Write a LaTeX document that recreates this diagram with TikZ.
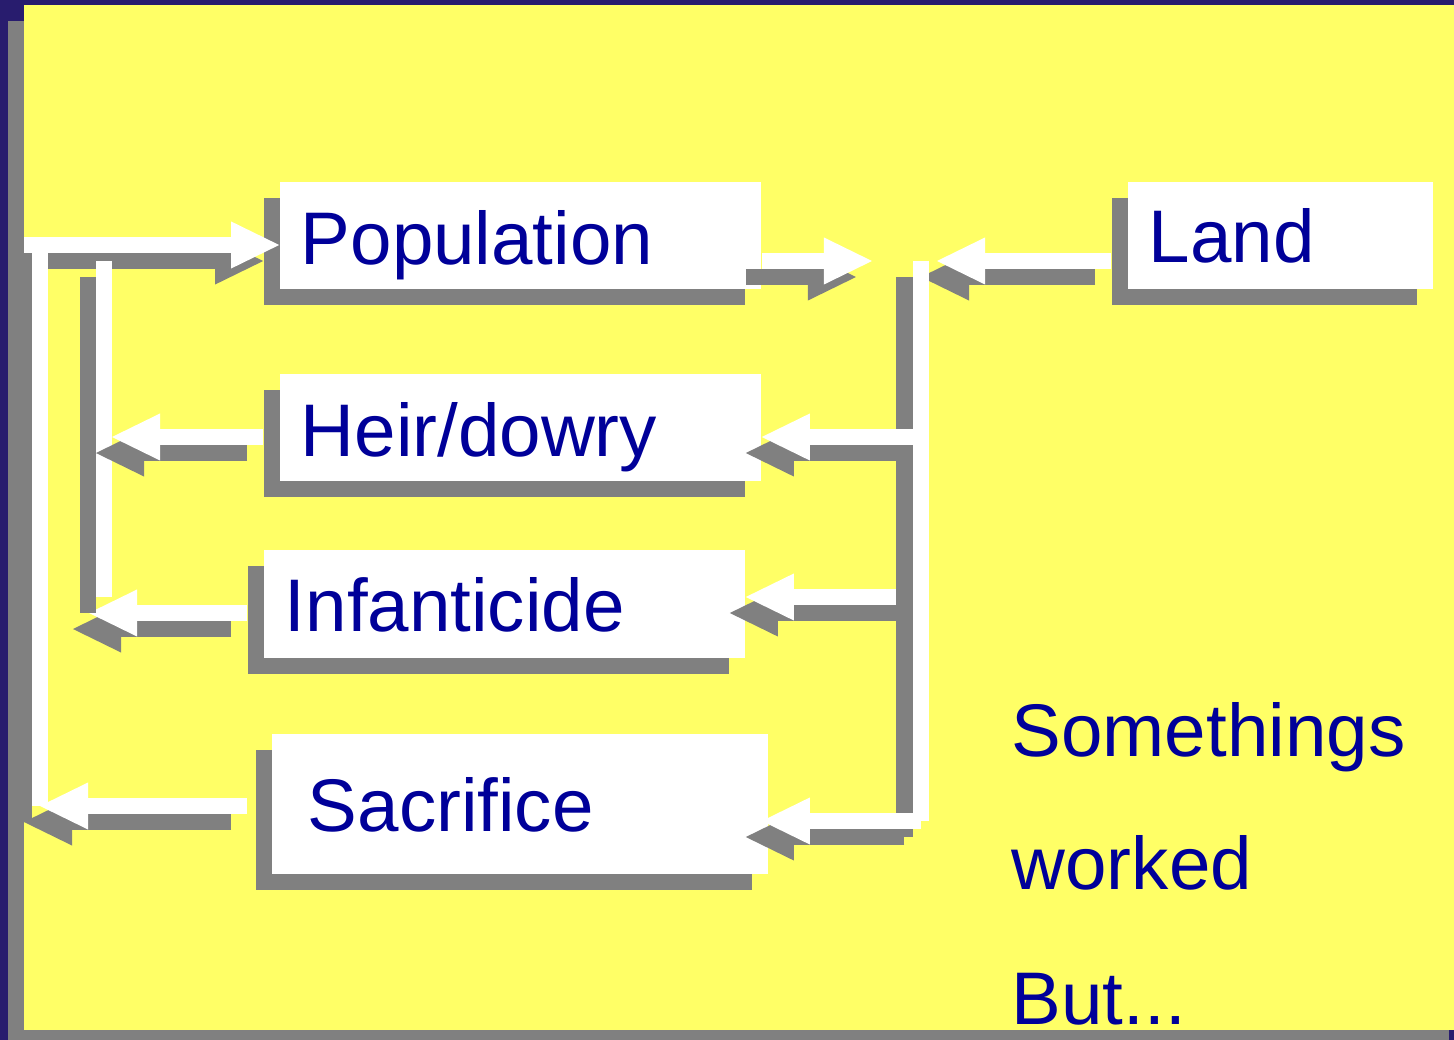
\documentclass[tikz,border=0pt]{standalone}
\usepackage{fontspec}
\setmainfont{Liberation Sans}
\usepackage{tikz}
\usetikzlibrary{arrows.meta,calc,shadows}
\usepackage{xcolor}
\definecolor{slideyellow}{RGB}{255,255,102}
\definecolor{framenavy}{RGB}{40,28,110}
\definecolor{shadowgray}{RGB}{128,128,128}
\definecolor{textblue}{RGB}{0,0,153}

\begin{document}
\begin{tikzpicture}[
    x=0.01cm, y=-0.01cm,
    box/.style={rectangle, fill=white, inner sep=0pt, general shadow={fill=shadowgray, shadow xshift=-0.16cm, shadow yshift=-0.16cm}},
    lbl/.style={font=\fontsize{21.2pt}{25pt}\selectfont, text=textblue, inner sep=0pt, anchor=base west},
    pipe/.style={draw=white, line width=0.16cm, preaction={draw=shadowgray, line width=0.16cm, transform canvas={shift={(-0.16cm,-0.16cm)}}}},
    flow/.style={pipe, -{Triangle[length=0.48cm, width=0.47cm, line width=0pt]}}
]
    \useasboundingbox (0,0) rectangle (1454,1040);
    \clip (0,0) rectangle (1454,1040);

    % Slide
    \fill[framenavy] (0,0) rectangle (1454,1040);
    \fill[shadowgray] (8,21) rectangle (1449,1046);
    \fill[slideyellow] (24,5) rectangle (1465,1030);

    % Boxes
    \node[box, minimum width=4.81cm, minimum height=1.07cm] (pop) at (520.5,235.5) {};
    \node[box, minimum width=3.05cm, minimum height=1.07cm] (land) at (1280.5,235.5) {};
    \node[box, minimum width=4.81cm, minimum height=1.07cm] (heir) at (520.5,427.5) {};
    \node[box, minimum width=4.81cm, minimum height=1.08cm] (inf) at (504.5,604) {};
    \node[box, minimum width=4.96cm, minimum height=1.40cm] (sac) at (520,804) {};

    % Labels
    \node[lbl] (poptxt) at ($(pop.north west)+(21,83)$) {Population};
    \node[lbl] (landtxt) at ($(land.north west)+(21,81)$) {Land};
    \node[lbl] (heirtxt) at ($(heir.north west)+(21,83)$) {Heir/dowry};
    \node[lbl] (inftxt) at ($(inf.north west)+(21,82)$) {Infanticide};
    \node[lbl] (sactxt) at ($(sac.north west)+(36,98)$) {Sacrifice};
    \node[lbl] (note1) at (1011,756) {Somethings};
    \node[lbl] (note2) at (1011,889) {worked};
    \node[lbl] (note3) at (1011,1024) {But...};

    % Junctions
    \coordinate (mix) at (920.5,261);
    \coordinate (rh) at (920.5,437);
    \coordinate (ri) at (920.5,597);
    \coordinate (rs) at (920.5,821);
    \coordinate (lt) at (24,245);
    \coordinate (ib1) at (104,261);
    \coordinate (ib2) at (104,597);
    \coordinate (lh) at (112,437);
    \coordinate (li) at (89,613);
    \coordinate (ls) at (40,806);

    % Right side
    \draw[flow, shorten >=0.485cm] (pop.east |- mix) -- (mix);
    \draw[flow, shorten <=0.16cm, shorten >=0.165cm] (land.west |- mix) -- (mix);
    \draw[flow] (ri) -- (inf.east |- ri);
    \draw[pipe] (mix) -- (rs);
    \draw[flow] (rh) -- (heir.east |- rh);
    \draw[flow, shorten >=-0.07cm] (rs) -- (sac.east |- rs);

    % Left side
    \draw[flow] (lt) -- (pop.west |- lt);
    \draw[flow, shorten <=0.16cm] (inf.west |- li) -- (li);
    \draw[pipe] (ib1) -- (ib2);
    \draw[flow, shorten <=0.16cm] (heir.west |- lh) -- (lh);
    \draw[pipe] (ls |- lt) -- (ls);
    \draw[flow, shorten <=0.24cm] (sac.west |- ls) -- (ls);
\end{tikzpicture}
\end{document}
